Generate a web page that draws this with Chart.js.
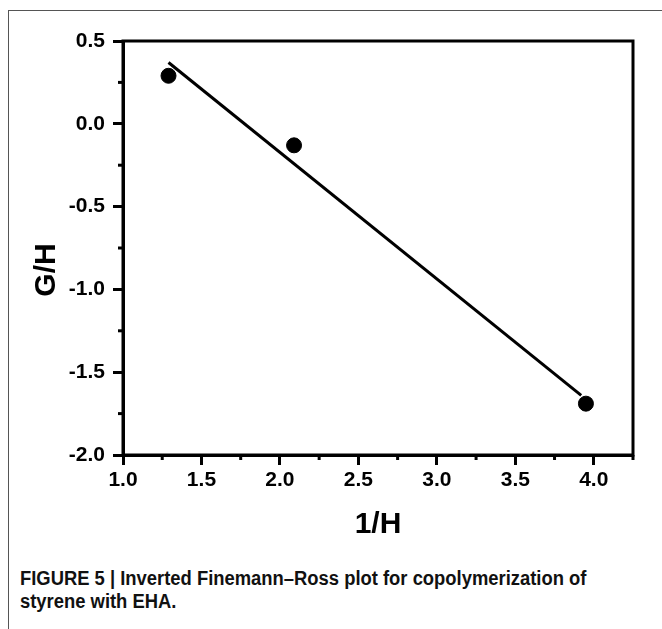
<!DOCTYPE html>
<html>
<head>
<meta charset="utf-8">
<script src="https://cdn.jsdelivr.net/npm/chart.js@4.4.0/dist/chart.umd.min.js"></script>
<style>
  html, body { margin: 0; padding: 0; background: #fff; }
  body { width: 662px; height: 629px; position: relative; overflow: hidden; }
  .frame {
    position: absolute; left: 8px; top: 10px; right: -2px; bottom: -2px;
    border-left: 1.5px solid #555; border-top: 1.5px solid #555;
  }
  #chartBox { position: absolute; left: 0; top: 0; width: 662px; height: 560px; }
  .caption {
    position: absolute; left: 20px; top: 567px; width: 700px;
    font-family: "Liberation Sans", Arial, sans-serif;
    font-weight: bold; font-size: 20px; line-height: 23px; color: #111;
    transform: scaleX(0.92); transform-origin: left top;
  }
</style>
</head>
<body>
<div class="frame"></div>
<div id="chartBox"><canvas id="chart" width="662" height="560"></canvas></div>
<div class="caption">FIGURE 5 | Inverted Finemann–Ross plot for copolymerization of<br>styrene with EHA.</div>
<script>
// البيانات
const hInv = [1.29, 2.09, 3.95];
const gOverH = [0.29, -0.13, -1.69];
// خط الملاءمة
const fitX = [1.29, 3.92];
const fitY = [0.37, -1.64];

const xTitle = '1/H';
const yTitle = 'G/H';

function isMajor(v) {
  return Math.abs(v * 2 - Math.round(v * 2)) < 1e-6;
}

// علامات فرعية قصيرة وإطار الرسم
const minorTicks = {
  id: 'minorTicks',
  afterDraw(chart) {
    const ctx = chart.ctx;
    const area = chart.chartArea;
    ctx.save();
    ctx.strokeStyle = '#000';
    ctx.lineWidth = 3;
    chart.scales.x.ticks.forEach(t => {
      if (isMajor(t.value)) return;
      const px = chart.scales.x.getPixelForValue(t.value);
      ctx.beginPath();
      ctx.moveTo(px, area.bottom);
      ctx.lineTo(px, area.bottom + 5);
      ctx.stroke();
    });
    chart.scales.y.ticks.forEach(t => {
      if (isMajor(t.value)) return;
      const py = chart.scales.y.getPixelForValue(t.value);
      ctx.beginPath();
      ctx.moveTo(area.left, py);
      ctx.lineTo(area.left - 5, py);
      ctx.stroke();
    });
    ctx.strokeRect(area.left, area.top, area.right - area.left, area.bottom - area.top);
    ctx.restore();
  }
};

// عناوين المحاور
const axisTitles = {
  id: 'axisTitles',
  afterDraw(chart) {
    const ctx = chart.ctx;
    const area = chart.chartArea;
    ctx.save();
    ctx.fillStyle = '#000';
    ctx.font = 'bold 30px "Liberation Sans", Arial, sans-serif';
    ctx.textAlign = 'center';
    ctx.textBaseline = 'alphabetic';
    ctx.fillText(xTitle, (area.left + area.right) / 2, 533);
    ctx.translate(55, 270);
    ctx.rotate(-Math.PI / 2);
    ctx.fillText(yTitle, 0, 0);
    ctx.restore();
  }
};

const tickFont = { family: '"Liberation Sans", Arial, sans-serif', size: 21, weight: 'bold' };

function axisGrid() {
  return {
    display: true,
    drawOnChartArea: false,
    drawTicks: true,
    tickLength: 10,
    tickWidth: 3,
    tickColor: (c) => (c.tick && isMajor(c.tick.value)) ? '#000' : 'rgba(0,0,0,0)'
  };
}

new Chart(document.getElementById('chart'), {
  type: 'scatter',
  data: {
    datasets: [
      {
        label: 'data',
        data: hInv.map((x, i) => ({ x: x, y: gOverH[i] })),
        backgroundColor: '#000',
        borderColor: '#000',
        pointRadius: 7.5,
        pointHoverRadius: 7.5
      },
      {
        label: 'fit',
        data: fitX.map((x, i) => ({ x: x, y: fitY[i] })),
        showLine: true,
        borderColor: '#000',
        borderWidth: 3,
        pointRadius: 0,
        fill: false
      }
    ]
  },
  options: {
    responsive: false,
    animation: false,
    layout: { padding: { top: 41, right: 29, left: 0, bottom: 0 } },
    plugins: {
      legend: { display: false },
      tooltip: { enabled: false }
    },
    scales: {
      x: {
        type: 'linear',
        min: 1.0,
        max: 4.25,
        afterFit: (s) => { s.height = 105; },
        border: { display: true, color: '#000', width: 3 },
        grid: axisGrid(),
        ticks: {
          stepSize: 0.25,
          autoSkip: false,
          maxRotation: 0,
          padding: 3,
          color: '#000',
          font: tickFont,
          callback: (v) => isMajor(v) ? v.toFixed(1) : ''
        }
      },
      y: {
        type: 'linear',
        min: -2.0,
        max: 0.5,
        afterFit: (s) => { s.width = 123; },
        border: { display: true, color: '#000', width: 3 },
        grid: axisGrid(),
        ticks: {
          stepSize: 0.25,
          autoSkip: false,
          padding: 8,
          color: '#000',
          font: tickFont,
          callback: (v) => isMajor(v) ? v.toFixed(1) : ''
        }
      }
    }
  },
  plugins: [minorTicks, axisTitles]
});
</script>
</body>
</html>
